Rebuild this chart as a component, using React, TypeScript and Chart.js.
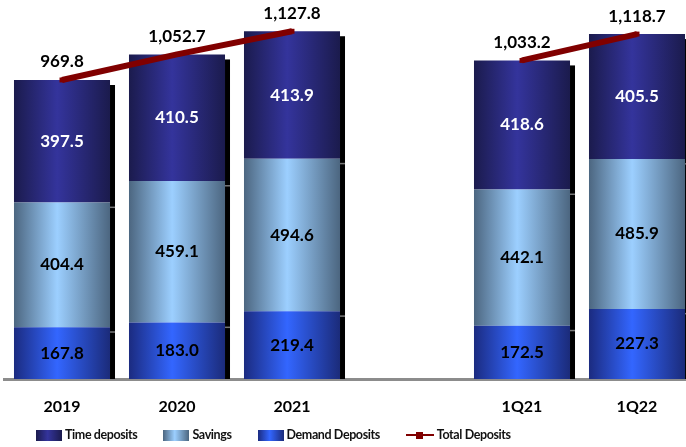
import React, { useEffect, useRef } from 'react';
import { Chart, registerables } from 'chart.js';

Chart.register(...registerables);

const categories = ['2019', '2020', '2021', '', '1Q21', '1Q22'];
const demandDeposits = [167.8, 183.0, 219.4, null, 172.5, 227.3];
const savings = [404.4, 459.1, 494.6, null, 442.1, 485.9];
const timeDeposits = [397.5, 410.5, 413.9, null, 418.6, 405.5];
const totalDeposits = [969.8, 1052.7, 1127.8, null, 1033.2, 1118.7];

const FONT = 'Lato, "Open Sans", sans-serif';
const BAR_PCT = 0.835;

const TIME_STOPS: [number, string][] = [[0, '#1b1b4d'], [0.45, '#34349c'], [1, '#1b1b4d']];
const SAV_STOPS: [number, string][] = [[0, '#4c6680'], [0.45, '#9ccfff'], [1, '#4c6680']];
const DEM_STOPS: [number, string][] = [[0, '#1b2b80'], [0.45, '#3366ff'], [1, '#1b2b7a']];

function cssGrad(stops: [number, string][]) {
  return 'linear-gradient(to right, ' + stops.map(([p, c]) => `${c} ${p * 100}%`).join(', ') + ')';
}

function barGradient(stops: [number, string][]) {
  return (ctx: any) => {
    const chart = ctx.chart;
    const xs = chart.scales && chart.scales.x;
    if (!chart.chartArea || !xs) return stops[1][1];
    const cx = xs.getPixelForValue(ctx.dataIndex);
    const w = (xs.width / categories.length) * BAR_PCT;
    const g = chart.ctx.createLinearGradient(cx - w / 2, 0, cx + w / 2, 0);
    stops.forEach(([p, c]) => g.addColorStop(p, c));
    return g;
  };
}

const shadowPlugin = {
  id: 'shadow3d',
  beforeDatasetsDraw(chart: any) {
    const c = chart.ctx;
    const m0 = chart.getDatasetMeta(0);
    const m1 = chart.getDatasetMeta(1);
    const m2 = chart.getDatasetMeta(2);
    c.save();
    m2.data.forEach((el: any, j: number) => {
      if (timeDeposits[j] == null) return;
      const p = el.getProps(['x', 'y', 'width'], true);
      const base = m0.data[j].getProps(['base'], true).base;
      const right = p.x + p.width / 2;
      c.fillStyle = '#000';
      c.fillRect(right, p.y + 5, 5, base - p.y - 5);
      c.fillStyle = '#777';
      [m0.data[j], m1.data[j]].forEach((e: any) => {
        const yy = e.getProps(['y'], true).y;
        c.fillRect(right, yy + 4, 5, 1.5);
      });
    });
    c.restore();
  },
};

const labelPlugin = {
  id: 'valueLabels',
  afterDatasetsDraw(chart: any) {
    const c = chart.ctx;
    c.save();
    c.font = `bold 17px ${FONT}`;
    c.textAlign = 'center';
    c.textBaseline = 'middle';
    const sets = [demandDeposits, savings, timeDeposits];
    const colors = ['#000', '#000', '#fff'];
    sets.forEach((arr, i) => {
      const meta = chart.getDatasetMeta(i);
      meta.data.forEach((el: any, j: number) => {
        const v = arr[j];
        if (v == null) return;
        const p = el.getProps(['x', 'y', 'base'], true);
        c.fillStyle = colors[i];
        c.fillText(v.toFixed(1), p.x, (p.y + p.base) / 2);
      });
    });
    const lm = chart.getDatasetMeta(3);
    c.fillStyle = '#000';
    lm.data.forEach((el: any, j: number) => {
      const v = totalDeposits[j];
      if (v == null) return;
      const p = el.getProps(['x', 'y'], true);
      c.fillText(v.toLocaleString('en-US', { minimumFractionDigits: 1, maximumFractionDigits: 1 }), p.x, p.y - 18);
    });
    c.restore();
  },
};

export default function App() {
  const ref = useRef<HTMLCanvasElement | null>(null);

  useEffect(() => {
    document.documentElement.style.overflow = 'hidden';
    document.body.style.overflow = 'hidden';
    if (!ref.current) return;
    const chart = new Chart(ref.current, {
      type: 'bar',
      data: {
        labels: categories,
        datasets: [
          { type: 'bar', label: 'Demand Deposits', data: demandDeposits, backgroundColor: barGradient(DEM_STOPS) as any, stack: 'dep', order: 1, barPercentage: BAR_PCT, categoryPercentage: 1 },
          { type: 'bar', label: 'Savings', data: savings, backgroundColor: barGradient(SAV_STOPS) as any, stack: 'dep', order: 1, barPercentage: BAR_PCT, categoryPercentage: 1 },
          { type: 'bar', label: 'Time deposits', data: timeDeposits, backgroundColor: barGradient(TIME_STOPS) as any, stack: 'dep', order: 1, barPercentage: BAR_PCT, categoryPercentage: 1 },
          {
            type: 'line', label: 'Total Deposits', data: totalDeposits, stack: 'total', order: 0,
            borderColor: '#800000', backgroundColor: '#800000', borderWidth: 6,
            pointStyle: 'rect', pointRadius: 3.5, pointBorderWidth: 0, pointBackgroundColor: '#800000',
            spanGaps: false, tension: 0, clip: false as any,
          },
        ],
      } as any,
      options: {
        animation: false,
        responsive: false,
        maintainAspectRatio: false,
        layout: { padding: { left: 4.5, right: 5.5, top: 9, bottom: 0 } },
        plugins: { legend: { display: false }, tooltip: { enabled: false } },
        scales: {
          x: {
            stacked: true,
            grid: { display: false, drawTicks: false },
            border: { display: true, color: '#8c8c8c', width: 3 },
            ticks: { color: '#000', font: { family: FONT, size: 16, weight: 'bold' }, padding: 18, maxRotation: 0, autoSkip: false },
            afterFit: (scale: any) => { scale.height = 68; },
          },
          y: {
            stacked: true,
            display: false,
            min: 0,
            max: 1200,
          },
        },
      } as any,
      plugins: [shadowPlugin, labelPlugin],
    });
    return () => chart.destroy();
  }, []);

  const legendItem = (sym: React.ReactNode, text: string) => (
    <div style={{ display: 'flex', alignItems: 'center', marginRight: 26 }}>
      {sym}
      <span style={{ marginLeft: 3 }}>{text}</span>
    </div>
  );
  const box = (stops: [number, string][]) => (
    <span style={{ display: 'inline-block', width: 26, height: 11, background: cssGrad(stops) }} />
  );
  const lineSym = (
    <span style={{ position: 'relative', display: 'inline-block', width: 28, height: 8 }}>
      <span style={{ position: 'absolute', left: 0, top: 3, width: 28, height: 2, background: '#800000' }} />
      <span style={{ position: 'absolute', left: 10.5, top: 0.5, width: 7, height: 7, background: '#800000' }} />
    </span>
  );

  return (
    <div style={{ position: 'fixed', left: 0, top: 0, width: 700, height: 447, background: '#fff' }}>
      <canvas ref={ref} width={700} height={447} style={{ display: 'block', width: 700, height: 447 }} />
      <div style={{ position: 'absolute', left: 36, top: 427, display: 'flex', fontFamily: FONT, fontWeight: 700, fontSize: 12.5, letterSpacing: '-0.4px', color: '#111', lineHeight: '16px' }}>
        {legendItem(box(TIME_STOPS), 'Time deposits')}
        {legendItem(box(SAV_STOPS), 'Savings')}
        {legendItem(box(DEM_STOPS), 'Demand Deposits')}
        {legendItem(lineSym, 'Total Deposits')}
      </div>
    </div>
  );
}
